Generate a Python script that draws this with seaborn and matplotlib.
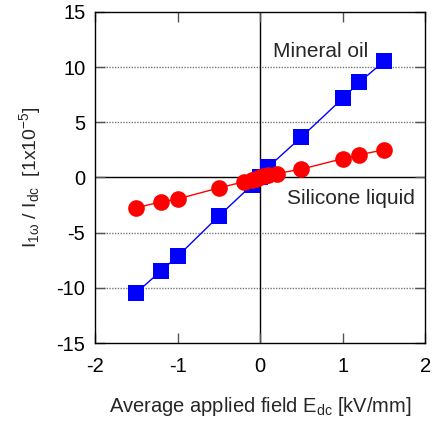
import matplotlib
matplotlib.use("Agg")
import matplotlib.pyplot as plt
import seaborn as sns
import pandas as pd

# Measured response versus average applied field
oil_field = [-1.5, -1.2, -1.0, -0.5, -0.1, 0.0, 0.1, 0.5, 1.0, 1.2, 1.5]
oil_ratio = [-10.45, -8.45, -7.15, -3.5, -0.7, 0.0, 0.95, 3.65, 7.15, 8.6, 10.5]

silicone_field = [-1.5, -1.2, -1.0, -0.5, -0.2, -0.1, -0.05, 0.0, 0.05, 0.1, 0.2, 0.5, 1.0, 1.2, 1.5]
silicone_ratio = [-2.75, -2.2, -1.95, -0.95, -0.4, -0.2, -0.1, 0.0, 0.1, 0.2, 0.35, 0.75, 1.7, 2.05, 2.5]

x_ticks = [-2, -1, 0, 1, 2]
y_ticks = [-15, -10, -5, 0, 5, 10, 15]

sns.set_style("ticks")
plt.rcParams["font.family"] = ["Liberation Sans", "DejaVu Sans"]
plt.rcParams["mathtext.fontset"] = "custom"
plt.rcParams["mathtext.rm"] = "Liberation Sans"
plt.rcParams["mathtext.it"] = "Liberation Sans"
plt.rcParams["mathtext.bf"] = "Liberation Sans:bold"

oil = pd.DataFrame({"field": oil_field, "ratio": oil_ratio})
sil = pd.DataFrame({"field": silicone_field, "ratio": silicone_ratio})

fig = plt.figure(figsize=(4.32, 4.21), dpi=100)
ax = fig.add_axes([0.22, 0.185, 0.764, 0.787])

# reference lines: dotted horizontal grid, solid zero axes
for yv in [-10, -5, 5, 10]:
    ax.axhline(yv, color="#777777", lw=1.0, ls=(0, (1, 1)), zorder=0)
ax.axhline(0, color="black", lw=1.0, zorder=0)
ax.axvline(0, color="black", lw=1.0, zorder=0)

sns.lineplot(data=oil, x="field", y="ratio", ax=ax, color="#0000ff", lw=1.0,
             marker="s", markersize=11.5, markeredgewidth=0, zorder=3)
sns.lineplot(data=sil, x="field", y="ratio", ax=ax, color="#ff0000", lw=1.0,
             marker="o", markersize=12, markeredgewidth=0, zorder=4)

ax.set_xlim(-2, 2)
ax.set_ylim(-15, 15)
ax.set_xticks(x_ticks)
ax.set_yticks(y_ticks)
ax.set_xticklabels([str(t) for t in x_ticks])
ax.set_yticklabels([str(t) for t in y_ticks])
ax.tick_params(direction="in", length=7, width=1, colors="#555555",
               labelcolor="black", labelsize=14.5, top=True, right=True)
ax.tick_params(axis="x", pad=10)
ax.tick_params(axis="y", pad=7)
for s in ax.spines.values():
    s.set_color("black")
    s.set_linewidth(1.0)

ax.text(0.16, 11.4, "Mineral oil", fontsize=15, va="center", ha="left")
ax.text(0.33, -1.95, "Silicone liquid", fontsize=15, va="center", ha="left")

ax.set_xlabel(r"Average applied field E$_{\mathrm{dc}}$ [kV/mm]", fontsize=14.5, labelpad=14)
ax.set_ylabel(r"I$_{\mathrm{1ω}}$ / I$_{\mathrm{dc}}$  [1x10$^{\mathrm{-5}}$]", fontsize=14, labelpad=10)

fig.savefig("out.png", dpi=100)
